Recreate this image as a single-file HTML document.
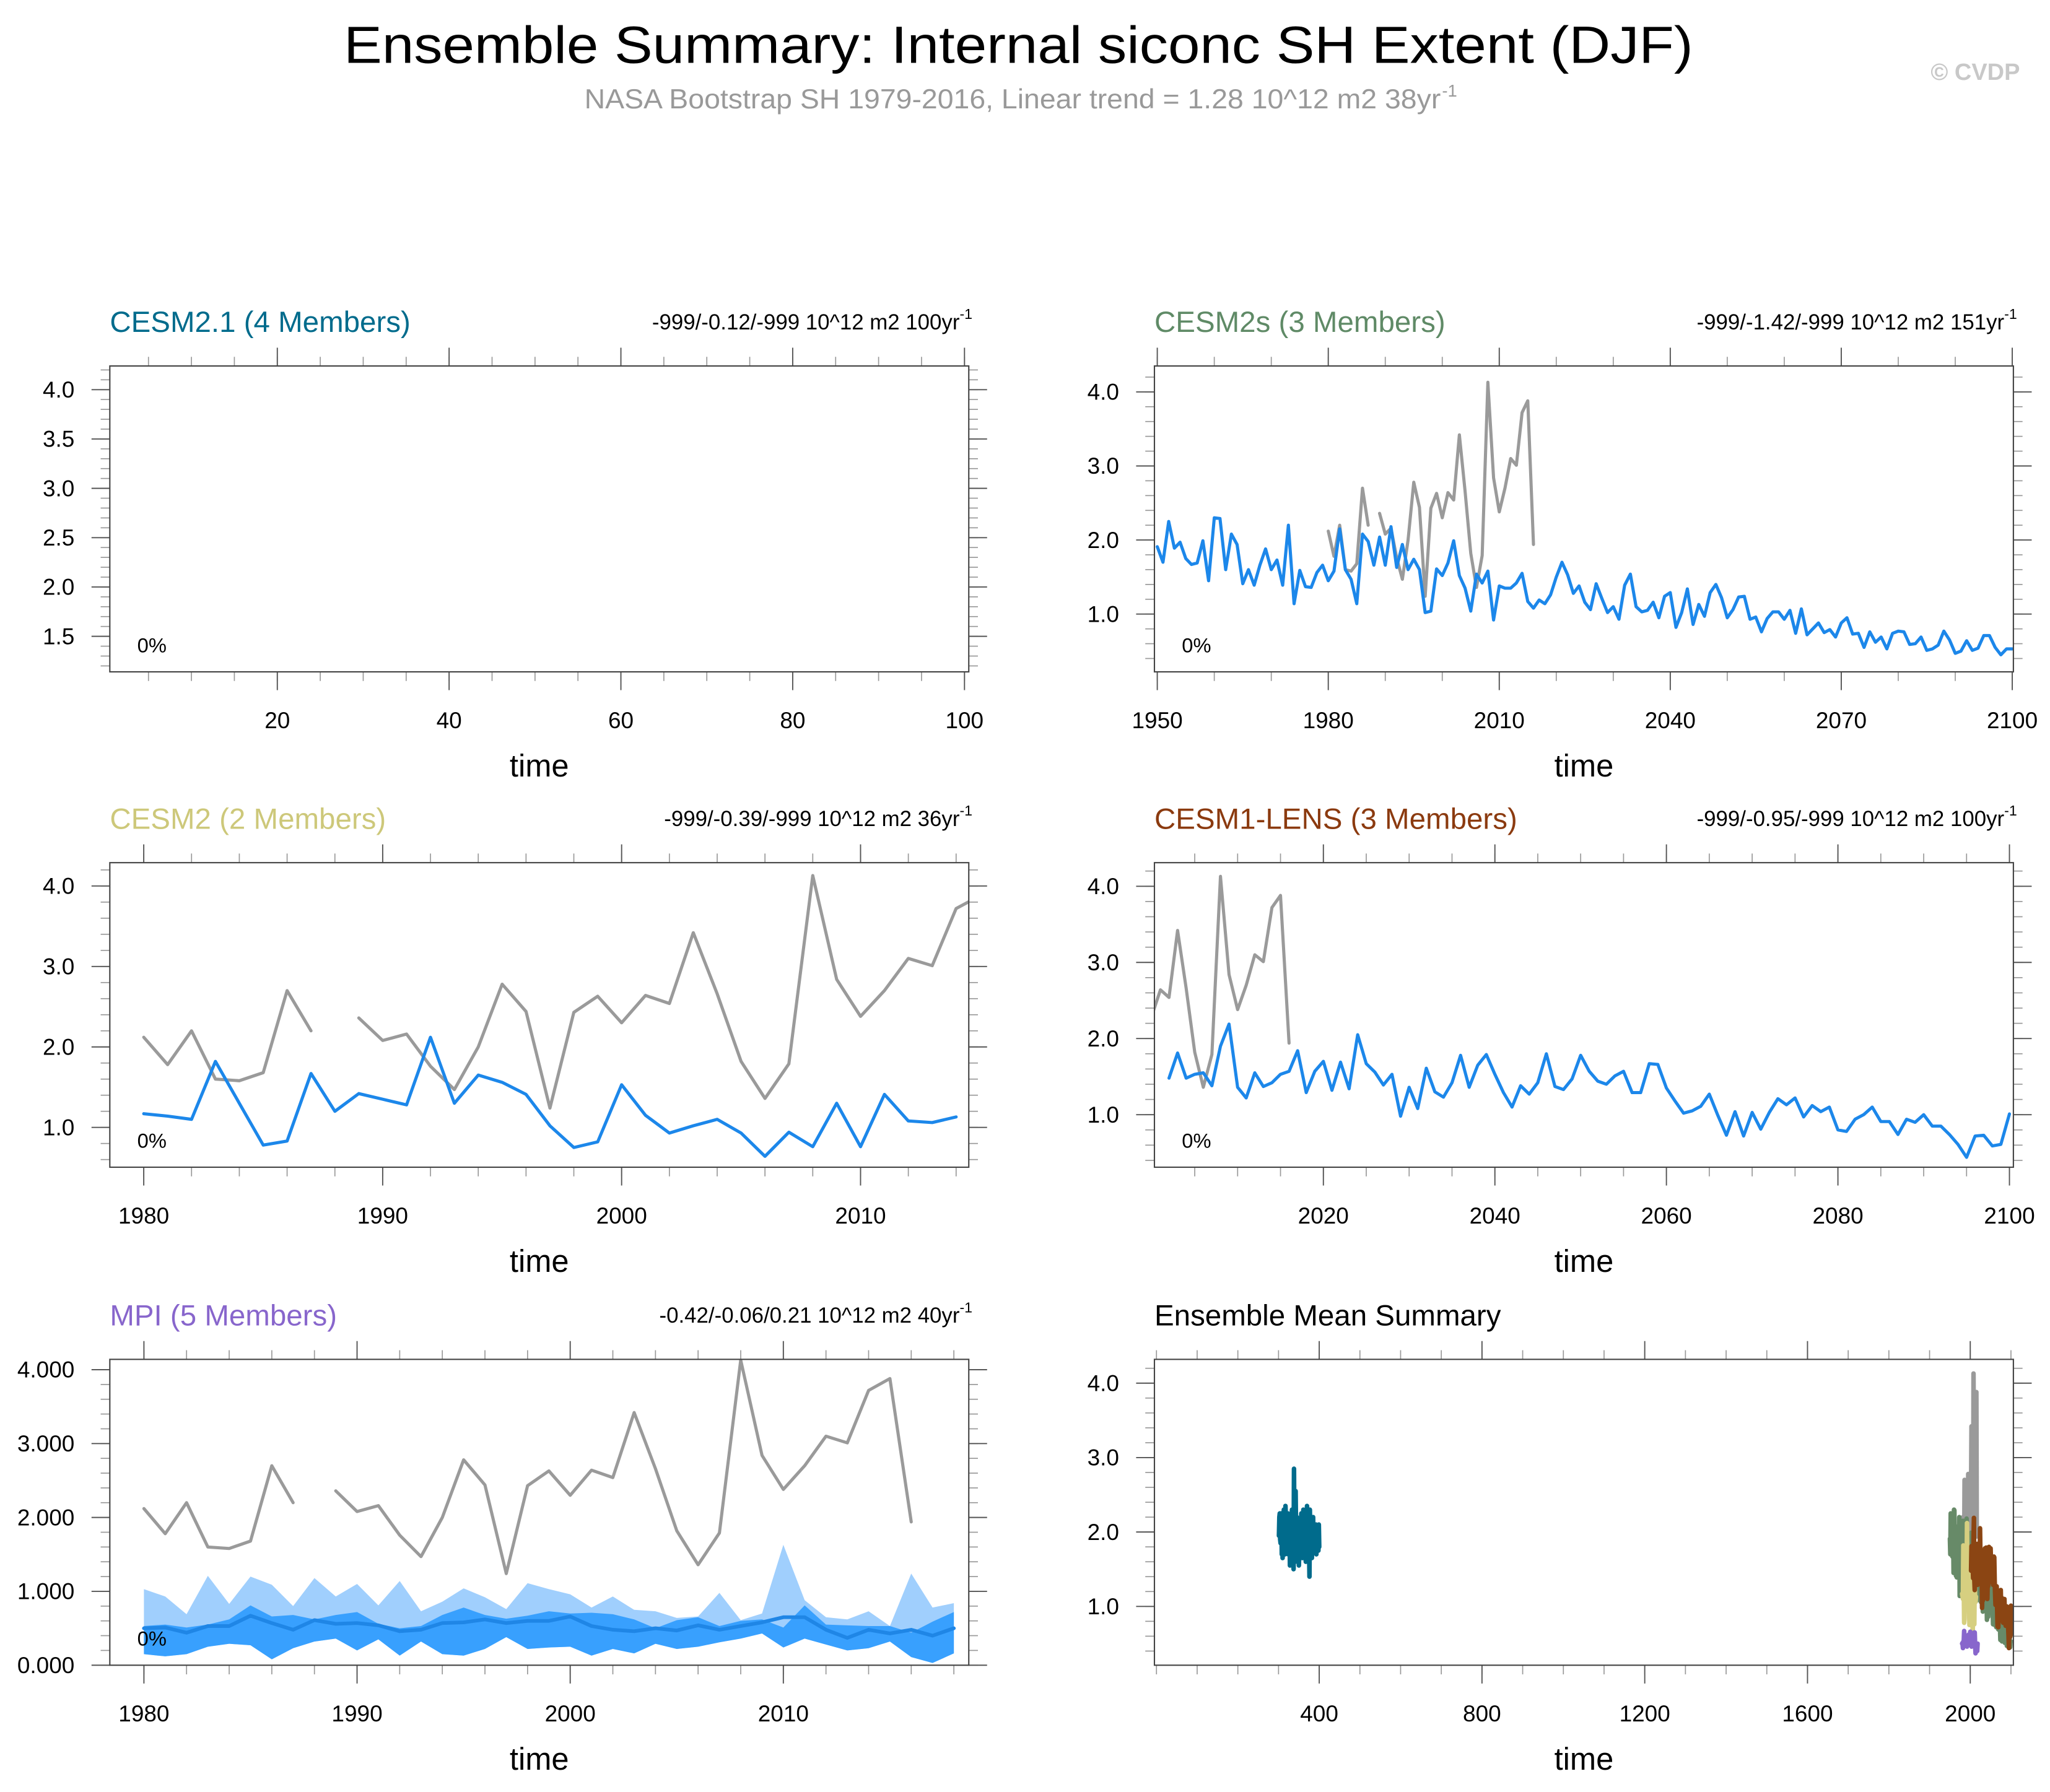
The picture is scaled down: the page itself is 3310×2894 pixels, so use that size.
<!DOCTYPE html>
<html><head><meta charset="utf-8"><title>Ensemble Summary</title>
<style>
html,body{margin:0;padding:0;background:#fff;}
svg{display:block;font-family:"Liberation Sans",Arial,sans-serif;}
</style></head>
<body>
<svg id="chart" width="3310" height="2894" viewBox="0 0 1568 1371" preserveAspectRatio="none" xmlns="http://www.w3.org/2000/svg">
<rect x="0" y="0" width="1568" height="1371" fill="#fff"/>
<text x="779" y="48" font-size="40" text-anchor="middle" textLength="1032" lengthAdjust="spacingAndGlyphs" fill="#000">Ensemble Summary: Internal siconc SH Extent (DJF)</text>
<text x="447" y="83" font-size="21" textLength="655" lengthAdjust="spacingAndGlyphs" fill="#999">NASA Bootstrap SH 1979-2016, Linear trend = 1.28 10^12 m2 38yr</text>
<text x="1103" y="74" font-size="13" fill="#999">-1</text>
<text x="1545" y="61" font-size="18" font-weight="bold" text-anchor="end" fill="#c8c8c8">© CVDP</text>
<g id="panels"></g>
</svg>
<script>
// ---------- DATA ----------
const obsStart = 1980;
const obsVals = [2.12,1.78,2.2,1.6,1.58,1.68,2.7,2.2,null,2.36,2.08,2.16,1.76,1.47,2.0,2.78,2.44,1.24,2.43,2.63,2.3,2.64,2.54,3.42,2.66,1.82,1.36,1.79,4.13,2.84,2.38,2.7,3.1,3.01,3.72,3.88,1.94];

const cesm2sStart = 1950;
const cesm2sVals = [1.91,1.70,2.25,1.89,1.97,1.75,1.67,1.69,1.99,1.45,2.30,2.29,1.60,2.08,1.94,1.41,1.60,1.39,1.66,1.88,
1.60,1.73,1.39,2.20,1.14,1.59,1.37,1.36,1.56,1.66,1.45,1.58,2.15,1.60,1.47,1.14,2.08,1.98,1.66,2.04,
1.66,2.18,1.63,1.94,1.60,1.74,1.60,1.02,1.04,1.61,1.52,1.69,1.99,1.52,1.35,1.04,1.54,1.42,1.58,0.92,
1.38,1.35,1.35,1.42,1.55,1.17,1.08,1.19,1.14,1.26,1.50,1.70,1.53,1.28,1.38,
1.16,1.06,1.41,1.21,1.02,1.10,0.93,1.39,1.54,1.10,1.03,1.05,1.16,0.95,1.24,1.29,0.82,1.02,1.34,0.86,
1.13,0.97,1.29,1.40,1.22,0.95,1.06,1.23,1.24,0.93,0.96,0.76,0.94,1.03,1.03,0.93,1.05,0.74,1.07,0.72,
0.80,0.88,0.75,0.79,0.69,0.88,0.95,0.73,0.74,0.55,0.76,0.62,0.69,0.53,0.74,0.77,0.76,0.59,0.60,0.69,
0.51,0.53,0.58,0.77,0.65,0.47,0.50,0.64,0.51,0.54,0.71,0.71,0.55,0.45,0.53,0.53];

const cesm2Start = 1980;
const cesm2Vals = [1.17,1.14,1.1,1.82,1.3,0.78,0.83,1.67,1.2,1.42,1.35,1.28,2.12,1.3,1.65,1.56,1.41,1.02,0.75,0.82,1.53,1.15,0.93,1.02,1.1,0.93,0.64,0.94,0.76,1.3,0.76,1.41,1.08,1.06,1.13];

const lensStart = 2002;
const lensVals = [1.48,1.81,1.48,1.53,1.55,1.38,1.90,2.19,1.36,1.22,1.55,1.37,1.42,1.53,1.57,1.84,1.29,1.57,1.70,1.32,
1.69,1.34,2.05,1.67,1.56,1.39,1.53,0.98,1.36,1.08,1.61,1.30,1.23,1.42,1.78,1.36,1.65,1.79,1.53,1.29,
1.10,1.38,1.27,1.42,1.80,1.37,1.33,1.47,1.78,1.57,
1.44,1.40,1.51,1.57,1.29,1.29,1.67,1.66,1.35,1.18,1.02,1.05,1.11,1.27,0.99,0.73,1.04,0.72,1.03,0.81,
1.03,1.21,1.13,1.22,0.97,1.12,1.04,1.10,0.80,0.78,0.94,1.00,1.10,0.91,0.91,0.74,0.94,0.90,1.00,0.85,
0.85,0.74,0.61,0.44,0.72,0.73,0.59,0.61,1.01];

const mpiStart = 1980;
const mpiMaxVals = [1.03,0.93,0.69,1.21,0.83,1.20,1.09,0.80,1.18,0.93,1.10,0.81,1.14,0.73,0.86,1.04,0.92,0.76,1.11,1.03,0.96,0.78,0.93,0.75,0.73,0.64,0.66,0.98,0.61,0.70,1.63,0.88,0.65,0.62,0.73,0.53,1.24,0.78,0.84];
const mpiUpperVals = [0.53,0.55,0.51,0.55,0.62,0.81,0.66,0.68,0.62,0.68,0.72,0.56,0.50,0.53,0.68,0.78,0.68,0.63,0.67,0.73,0.70,0.71,0.69,0.62,0.50,0.61,0.65,0.53,0.60,0.62,0.51,0.81,0.55,0.54,0.53,0.53,0.44,0.59,0.72];
const mpiLowerVals = [0.15,0.12,0.15,0.25,0.29,0.27,0.08,0.23,0.32,0.36,0.20,0.35,0.13,0.32,0.15,0.13,0.22,0.38,0.22,0.24,0.25,0.13,0.22,0.16,0.29,0.22,0.25,0.31,0.36,0.43,0.24,0.36,0.28,0.20,0.23,0.32,0.11,0.03,0.16];
const mpiMeanVals = [0.50,0.51,0.44,0.53,0.53,0.67,0.57,0.48,0.61,0.56,0.57,0.54,0.46,0.48,0.57,0.58,0.62,0.57,0.60,0.60,0.66,0.53,0.48,0.46,0.50,0.47,0.54,0.48,0.53,0.58,0.65,0.65,0.48,0.37,0.48,0.43,0.48,0.40,0.50];

const cesm21Start = 301;
const cesm21Vals = [1.95,2.2,2.25,1.9,1.85,2.1,2.25,1.7,2.15,1.65,2.0,1.9,2.3,1.8,2.05,1.7,2.35,2.2,1.75,2.1,
1.95,1.85,2.25,1.7,2.0,1.8,2.1,1.55,2.2,1.9,1.65,2.05,2.3,1.8,2.15,1.95,1.5,2.85,1.9,2.1,
1.75,2.55,2.0,1.85,2.2,1.6,2.0,1.9,2.05,1.55,1.8,2.0,1.95,1.7,2.1,2.25,1.75,2.0,1.65,1.9,
2.3,1.85,2.05,1.7,2.1,1.95,1.6,2.2,1.8,2.35,1.9,2.05,1.75,2.15,1.85,1.4,2.3,1.95,2.1,1.7,
2.05,1.65,2.0,1.85,2.2,1.75,2.1,1.9,1.8,2.05,1.95,2.1,1.7,2.0,1.85,2.05,1.9,1.75,2.1,1.8];

const p1YTicks = [1.5,2.0,2.5,3.0,3.5,4.0];
const p1XTicks = [20,40,60,80,100];
const p2YTicks = [1.0,2.0,3.0,4.0];
const p2XTicks = [1950,1980,2010,2040,2070,2100];
const p3XTicks = [1980,1990,2000,2010];
const p4XTicks = [2020,2040,2060,2080,2100];
const p5YTicks = [0,1,2,3,4];
const p5XTicks = [1980,1990,2000,2010];
const p6XTicks = [400,800,1200,1600,2000];

// ---------- DRAWING ----------
const NS = "http://www.w3.org/2000/svg";
const root = document.getElementById('panels');
function mk(tag, attrs, parent) {
  const e = document.createElementNS(NS, tag);
  for (const k in attrs) e.setAttribute(k, attrs[k]);
  (parent || root).appendChild(e);
  return e;
}
function range(a, b, s) { const r = []; for (let v = a; v <= b + 1e-9; v += s) r.push(+v.toFixed(6)); return r; }

function makePanel(cfg) {
  const g = mk('g', {});
  
  
  const L = cfg.box[0], R = cfg.box[1], T = cfg.box[2], B = cfg.box[3];
  const sx = v => L + (v - cfg.xd[0]) / (cfg.xd[1] - cfg.xd[0]) * (R - L);
  const sy = v => B - (v - cfg.yd[0]) / (cfg.yd[1] - cfg.yd[0]) * (B - T);
  const cid = 'clip-' + cfg.name;
  const cp = mk('clipPath', { id: cid }, g);
  mk('rect', { x: L, y: T, width: R - L, height: B - T }, cp);
  const plot = mk('g', { 'clip-path': 'url(#' + cid + ')' }, g);
  
  
  const tg = mk('g', {}, g);
  
  
  const minX = range(Math.ceil(cfg.xd[0] / cfg.xMinor) * cfg.xMinor, cfg.xd[1], cfg.xMinor);
  minX.forEach(v => { const x = sx(v);
    mk('line', { x1: x, x2: x, y1: T, y2: T - 7, stroke: '#999', 'stroke-width': 0.8 }, tg);
    mk('line', { x1: x, x2: x, y1: B, y2: B + 7, stroke: '#999', 'stroke-width': 0.8 }, tg); });
  const minY = range(Math.ceil(cfg.yd[0] / cfg.yMinor) * cfg.yMinor, cfg.yd[1], cfg.yMinor);
  minY.forEach(v => { const y = sy(v);
    mk('line', { x1: L, x2: L - 7, y1: y, y2: y, stroke: '#999', 'stroke-width': 0.8 }, tg);
    mk('line', { x1: R, x2: R + 7, y1: y, y2: y, stroke: '#999', 'stroke-width': 0.8 }, tg); });
  cfg.xTicks.forEach(v => { const x = sx(v);
    mk('line', { x1: x, x2: x, y1: T, y2: T - 14, stroke: '#555', 'stroke-width': 0.9 }, tg);
    mk('line', { x1: x, x2: x, y1: B, y2: B + 14, stroke: '#555', 'stroke-width': 0.9 }, tg);
    const t = mk('text', { x: x, y: B + 43, 'font-size': 17.5, 'text-anchor': 'middle', fill: '#000' }, g);
    
    
    t.textContent = String(v); });
  cfg.yTicks.forEach(v => { const y = sy(v);
    mk('line', { x1: L, x2: L - 14, y1: y, y2: y, stroke: '#555', 'stroke-width': 0.9 }, tg);
    mk('line', { x1: R, x2: R + 14, y1: y, y2: y, stroke: '#555', 'stroke-width': 0.9 }, tg);
    const t = mk('text', { x: L - 27, y: y + 6, 'font-size': 17.5, 'text-anchor': 'end', fill: '#000' }, g);
    
    
    t.textContent = v.toFixed(cfg.yDec); });
  const box = mk('rect', { x: L, y: T, width: R - L, height: B - T, fill: 'none', stroke: '#444', 'stroke-width': 1 }, g);
  
  
  const ti = mk('text', { x: L, y: T - 26, 'font-size': 22.5, fill: cfg.titleColor }, g);
  
  
  ti.textContent = cfg.title;
  if (cfg.trend) {
    const tr = mk('text', { x: R - 7, y: T - 28, 'font-size': 16.5, 'text-anchor': 'end', fill: '#000' }, g);
    
    
    tr.textContent = cfg.trend[0];
    const sup = mk('text', { x: R - 7, y: T - 36, 'font-size': 11, fill: '#000' }, g);
    
    
    sup.textContent = '-1';
  }
  if (cfg.pct) {
    const p = mk('text', { x: L + 21, y: B - 15, 'font-size': 15.5, fill: '#000' }, g);
    
    
    p.textContent = '0%';
  }
  const xl = mk('text', { x: (L + R) / 2, y: B + 80, 'font-size': 24, 'text-anchor': 'middle', fill: '#000' }, g);
  
  
  xl.textContent = 'time';
  return { plot, sx, sy };
}

function addLine(p, start, vals, color, w, name) {
  let d = '', pen = false;
  vals.forEach((v, i) => {
    if (v === null || v === undefined) { pen = false; return; }
    d += (pen ? 'L' : 'M') + p.sx(start + i).toFixed(2) + ' ' + p.sy(v).toFixed(2) + ' ';
    pen = true;
  });
  const e = mk('path', { d: d, fill: 'none', stroke: color, 'stroke-width': w, 'stroke-linejoin': 'round', 'stroke-linecap': 'round' }, p.plot);
  
  
}
function addBand(p, start, up, lo, color, name) {
  let d = '';
  up.forEach((v, i) => { d += (i ? 'L' : 'M') + p.sx(start + i).toFixed(2) + ' ' + p.sy(v).toFixed(2) + ' '; });
  for (let i = lo.length - 1; i >= 0; i--) d += 'L' + p.sx(start + i).toFixed(2) + ' ' + p.sy(lo[i]).toFixed(2) + ' ';
  const e = mk('path', { d: d + 'Z', fill: color, stroke: 'none' }, p.plot);
  
  
}

const BLUE = '#1c87ea', GRAY = '#9a9a9a';
const LW = 2.4;

makePanel({ name: 'panel-cesm2-1', box: [84, 741, 280, 514], xd: [0.5, 100.5], yd: [1.14, 4.24],
  xTicks: p1XTicks, yTicks: p1YTicks, xMinor: 5, yMinor: 0.1, yDec: 1,
  title: 'CESM2.1 (4 Members)', titleColor: '#006b8c', trend: ['-999/-0.12/-999 10^12 m2 100yr'], pct: true });

const p2 = makePanel({ name: 'panel-cesm2s', box: [883, 1540, 280, 514], xd: [1949.5, 2100.2], yd: [0.22, 4.35],
  xTicks: p2XTicks, yTicks: p2YTicks, xMinor: 10, yMinor: 0.2, yDec: 1,
  title: 'CESM2s (3 Members)', titleColor: '#5f8a66', trend: ['-999/-1.42/-999 10^12 m2 151yr'], pct: true });
addLine(p2, obsStart, obsVals, GRAY, LW, 'obs-line');
addLine(p2, cesm2sStart, cesm2sVals, BLUE, LW, 'ensemble-mean-line');

const p3 = makePanel({ name: 'panel-cesm2', box: [84, 741, 660, 893], xd: [1978.58, 2014.53], yd: [0.505, 4.29],
  xTicks: p3XTicks, yTicks: p2YTicks, xMinor: 2, yMinor: 0.2, yDec: 1,
  title: 'CESM2 (2 Members)', titleColor: '#cdc87a', trend: ['-999/-0.39/-999 10^12 m2 36yr'], pct: true });
addLine(p3, obsStart, obsVals, GRAY, LW, 'obs-line');
addLine(p3, cesm2Start, cesm2Vals, BLUE, LW, 'ensemble-mean-line');

const p4 = makePanel({ name: 'panel-cesm1-lens', box: [883, 1540, 660, 893], xd: [2000.3, 2100.46], yd: [0.31, 4.31],
  xTicks: p4XTicks, yTicks: p2YTicks, xMinor: 5, yMinor: 0.2, yDec: 1,
  title: 'CESM1-LENS (3 Members)', titleColor: '#8b3a0f', trend: ['-999/-0.95/-999 10^12 m2 100yr'], pct: true });
addLine(p4, obsStart, obsVals, GRAY, LW, 'obs-line');
addLine(p4, lensStart, lensVals, BLUE, LW, 'ensemble-mean-line');

const p5 = makePanel({ name: 'panel-mpi', box: [84, 741, 1040, 1274], xd: [1978.4, 2018.7], yd: [0, 4.14],
  xTicks: p5XTicks, yTicks: p5YTicks, xMinor: 2, yMinor: 0.2, yDec: 3,
  title: 'MPI (5 Members)', titleColor: '#8866cc', trend: ['-0.42/-0.06/0.21 10^12 m2 40yr'], pct: true });
addBand(p5, mpiStart, mpiMaxVals, mpiLowerVals, '#a0cffd', 'member-range-band');
addBand(p5, mpiStart, mpiUpperVals, mpiLowerVals, '#38a0fe', 'member-spread-band');
addLine(p5, mpiStart, mpiMeanVals, '#1f86e6', 2.8, 'ensemble-mean-line');
addLine(p5, obsStart, obsVals, GRAY, LW, 'obs-line');

const p6 = makePanel({ name: 'panel-ensemble-mean-summary', box: [883, 1540, 1040, 1274], xd: [-5, 2106], yd: [0.21, 4.32],
  xTicks: p6XTicks, yTicks: p2YTicks, xMinor: 100, yMinor: 0.2, yDec: 1,
  title: 'Ensemble Mean Summary', titleColor: '#000', trend: null, pct: false });
addLine(p6, cesm21Start, cesm21Vals, '#006b8c', 3.5, 'cesm2-1-line');
addLine(p6, obsStart, obsVals, GRAY, 3.5, 'obs-line');
addLine(p6, cesm2sStart, cesm2sVals, '#678a68', 3.5, 'cesm2s-line');
addLine(p6, cesm2Start, cesm2Vals, '#d6cf80', 3.5, 'cesm2-line');
addLine(p6, lensStart, lensVals, '#8b4513', 3.5, 'cesm1-lens-line');
addLine(p6, mpiStart, mpiMeanVals, '#8866cc', 3.5, 'mpi-line');
</script>
</body></html>
